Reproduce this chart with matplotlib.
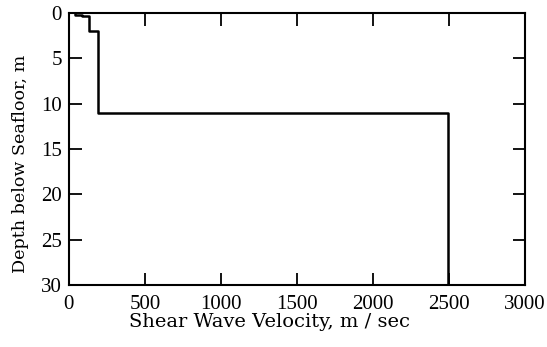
import numpy as np
import matplotlib.pyplot as plt

plt.rcParams['font.family'] = 'DejaVu Serif'
plt.rcParams['font.size'] = 13

# layered shear wave velocity profile
layer_vs = [40, 85, 130, 190, 2490]          # m/sec
layer_bounds = [0, 0.2, 0.35, 1.95, 11.0, 30]  # depth below seafloor, m

vs_pts = []
depth_pts = []
for i, v in enumerate(layer_vs):
    vs_pts += [v, v]
    depth_pts += [layer_bounds[i], layer_bounds[i + 1]]

fig = plt.figure(figsize=(5.47, 3.47), dpi=100)
ax = fig.add_axes([0.126, 0.179, 0.834, 0.784])

ax.plot(vs_pts, depth_pts, color='k', linewidth=1.8)

ax.set_xlim(0, 3000)
ax.set_ylim(30, 0)
ax.set_xticks([0, 500, 1000, 1500, 2000, 2500, 3000])
ax.set_yticks([0, 5, 10, 15, 20, 25, 30])
ax.tick_params(direction='in', length=9, width=1.3, top=True, right=True)
ax.tick_params(axis='x', pad=7)
ax.tick_params(axis='y', pad=5)
for lab in ax.get_xticklabels() + ax.get_yticklabels():
    lab.set_fontfamily('Liberation Serif')
    lab.set_fontsize(15)
for s in ax.spines.values():
    s.set_linewidth(1.5)

ax.set_xlabel('Shear Wave Velocity, m / sec', fontsize=14)
ax.xaxis.set_label_coords(0.44, -0.105)
ax.set_ylabel('Depth below Seafloor, m', fontsize=12.6)
ax.yaxis.set_label_coords(-0.088, 0.445)

fig.savefig('out.png', dpi=100)
